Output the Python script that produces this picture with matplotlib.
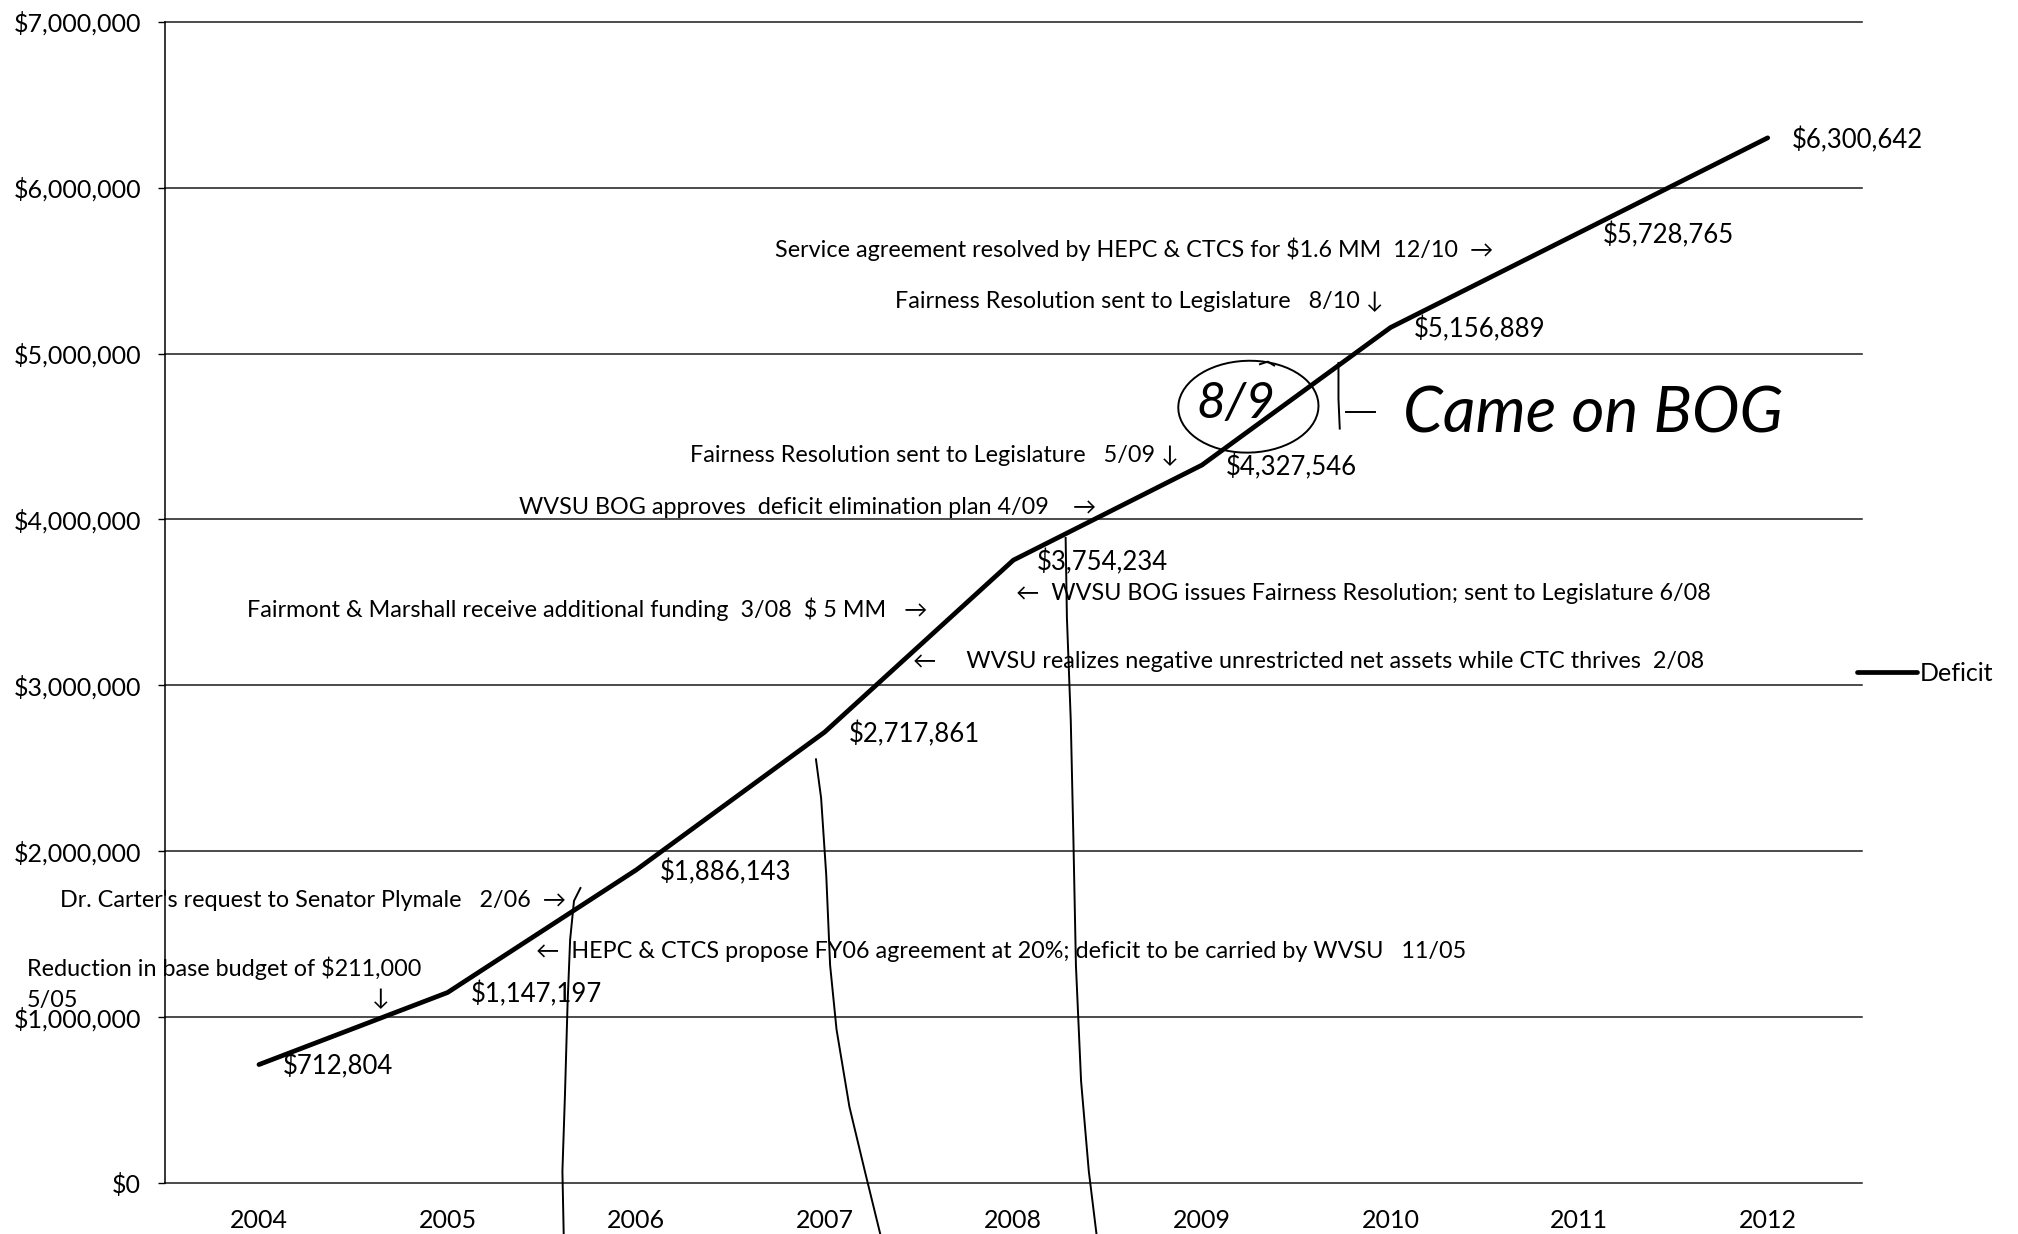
import matplotlib
matplotlib.use("Agg")
import matplotlib.pyplot as plt
from matplotlib.patches import Ellipse
from matplotlib.ticker import FuncFormatter
import numpy as np

# Data
years = ["2004", "2005", "2006", "2007", "2008", "2009", "2010", "2011", "2012"]
deficit = [712804, 1147197, 1886143, 2717861, 3754234, 4327546, 5156889, 5728765, 6300642]
y_ticks = [0, 1000000, 2000000, 3000000, 4000000, 5000000, 6000000, 7000000]

# Event notes: (text, x in category units, y in dollars), left aligned
notes = [
    ("Service agreement resolved by HEPC & CTCS for $1.6 MM  12/10  \u2192", 2.735, 5626000),
    ("Fairness Resolution sent to Legislature   8/10 \u2193", 3.371, 5316000),
    ("Fairness Resolution sent to Legislature   5/09 \u2193", 2.284, 4385000),
    ("WVSU BOG approves  deficit elimination plan 4/09    \u2192", 1.381, 4074000),
    ("\u2190  WVSU BOG issues Fairness Resolution; sent to Legislature 6/08", 4.014, 3554000),
    ("Fairmont & Marshall receive additional funding  3/08  $ 5 MM   \u2192", -0.062, 3461000),
    ("\u2190     WVSU realizes negative unrestricted net assets while CTC thrives  2/08", 3.467, 3143000),
    ("Dr. Carter's request to Senator Plymale   2/06  \u2192", -1.053, 1700000),
    ("\u2190  HEPC & CTCS propose FY06 agreement at 20%; deficit to be carried by WVSU   11/05", 1.470, 1397000),
    ("Reduction in base budget of $211,000", -1.231, 1296000),
    ("5/05", -1.231, 1102000),
]
down_arrow = ("\u2193", 0.643, 1110000)

# handwritten pen strokes on the scanned page (pixels, 1568-wide copy)
pen_strokes = [
    [(451, 690), (446, 700), (443, 730), (441, 780), (439, 850), (437, 910), (438, 959)],
    [(634, 590), (638, 620), (642, 680), (645, 750), (650, 800), (660, 860), (672, 910), (684, 959)],
    [(828, 418), (829, 480), (832, 560), (834, 650), (836, 750), (840, 840), (846, 910), (852, 959)],
    [(1040, 282), (1040, 310), (1041, 333)],
    [(1046, 320), (1068, 320)],
    [(979, 283), (985, 281), (990, 284)],
]

W, H = 2018, 1234
S = W / 1568.0


def fig_xy(px, py):
    return px * S / W, 1 - py * S / H


label_font = ["Lato", "DejaVu Sans"]
note_font = ["Lato", "DejaVu Sans"]

fig = plt.figure(figsize=(W / 100, H / 100), dpi=100)
ax = fig.add_axes([0.0816, 0.0415, 0.8411, 0.9408])

x = np.arange(len(years))
ax.plot(x, deficit, color="black", lw=3.4, solid_capstyle="round", solid_joinstyle="round",
        label="Deficit", zorder=5)

for xi, v in zip(x, deficit):
    ax.annotate(f"${v:,.0f}", (xi, v), xytext=(17, -1.5), textcoords="offset points",
                ha="left", va="center", fontsize=18.5, family=label_font, zorder=6)

for txt, tx, ty in notes:
    ax.text(tx, ty, txt, ha="left", va="center", fontsize=16.8, family=note_font,
            clip_on=False, zorder=6)
ax.text(down_arrow[1], down_arrow[2], down_arrow[0], ha="center", va="center",
        fontsize=16.8, family=note_font, zorder=6)

ax.set_xlim(-0.5, len(years) - 0.5)
ax.set_ylim(0, 7000000)
ax.set_xticks(x)
ax.set_xticklabels(years, family=label_font, fontsize=18)
ax.set_yticks(y_ticks)
ax.yaxis.set_major_formatter(FuncFormatter(lambda v, p: f"${v:,.0f}"))
for t in ax.get_yticklabels():
    t.set_family(label_font)
    t.set_fontsize(18)
ax.tick_params(axis="x", length=0, pad=19)
ax.tick_params(axis="y", length=5, width=1, pad=12, color="black")

ax.yaxis.grid(True, color="#1a1a1a", lw=1.1)
for gl in ax.get_ygridlines():
    gl.set_clip_on(False)
ax.set_axisbelow(True)
for s in ["top", "right", "bottom"]:
    ax.spines[s].set_visible(False)
ax.spines["left"].set_color("black")
ax.spines["left"].set_linewidth(1.1)

lx, ly = fig_xy(1443, 523)
fig.legend(loc="center left", bbox_to_anchor=(lx, ly), frameon=False,
           handlelength=2.4, handletextpad=0.1, borderpad=0, borderaxespad=0,
           prop={"family": label_font, "size": 18})

# handwritten marks
for stroke in pen_strokes:
    pts = [fig_xy(px, py) for px, py in stroke]
    fig.add_artist(plt.Line2D([p[0] for p in pts], [p[1] for p in pts], color="black",
                              lw=1.4, transform=fig.transFigure, zorder=7))
cx, cy = fig_xy(970, 316)
fig.add_artist(Ellipse((cx, cy), 140 / W, 92 / H, angle=-8, fill=False, ec="black", lw=1.4,
                       transform=fig.transFigure, zorder=7))
hx, hy = fig_xy(960, 314)
fig.text(hx, hy, "8/9", ha="center", va="center", fontsize=36, style="italic",
         family=["Lato", "DejaVu Sans"], color="black", zorder=7)
bx, by = fig_xy(1090, 322)
fig.text(bx, by, "Came on BOG", ha="left", va="center", fontsize=46, style="italic",
         family=["Lato", "DejaVu Sans"], color="black", zorder=7)

fig.savefig("out.png", dpi=100)
